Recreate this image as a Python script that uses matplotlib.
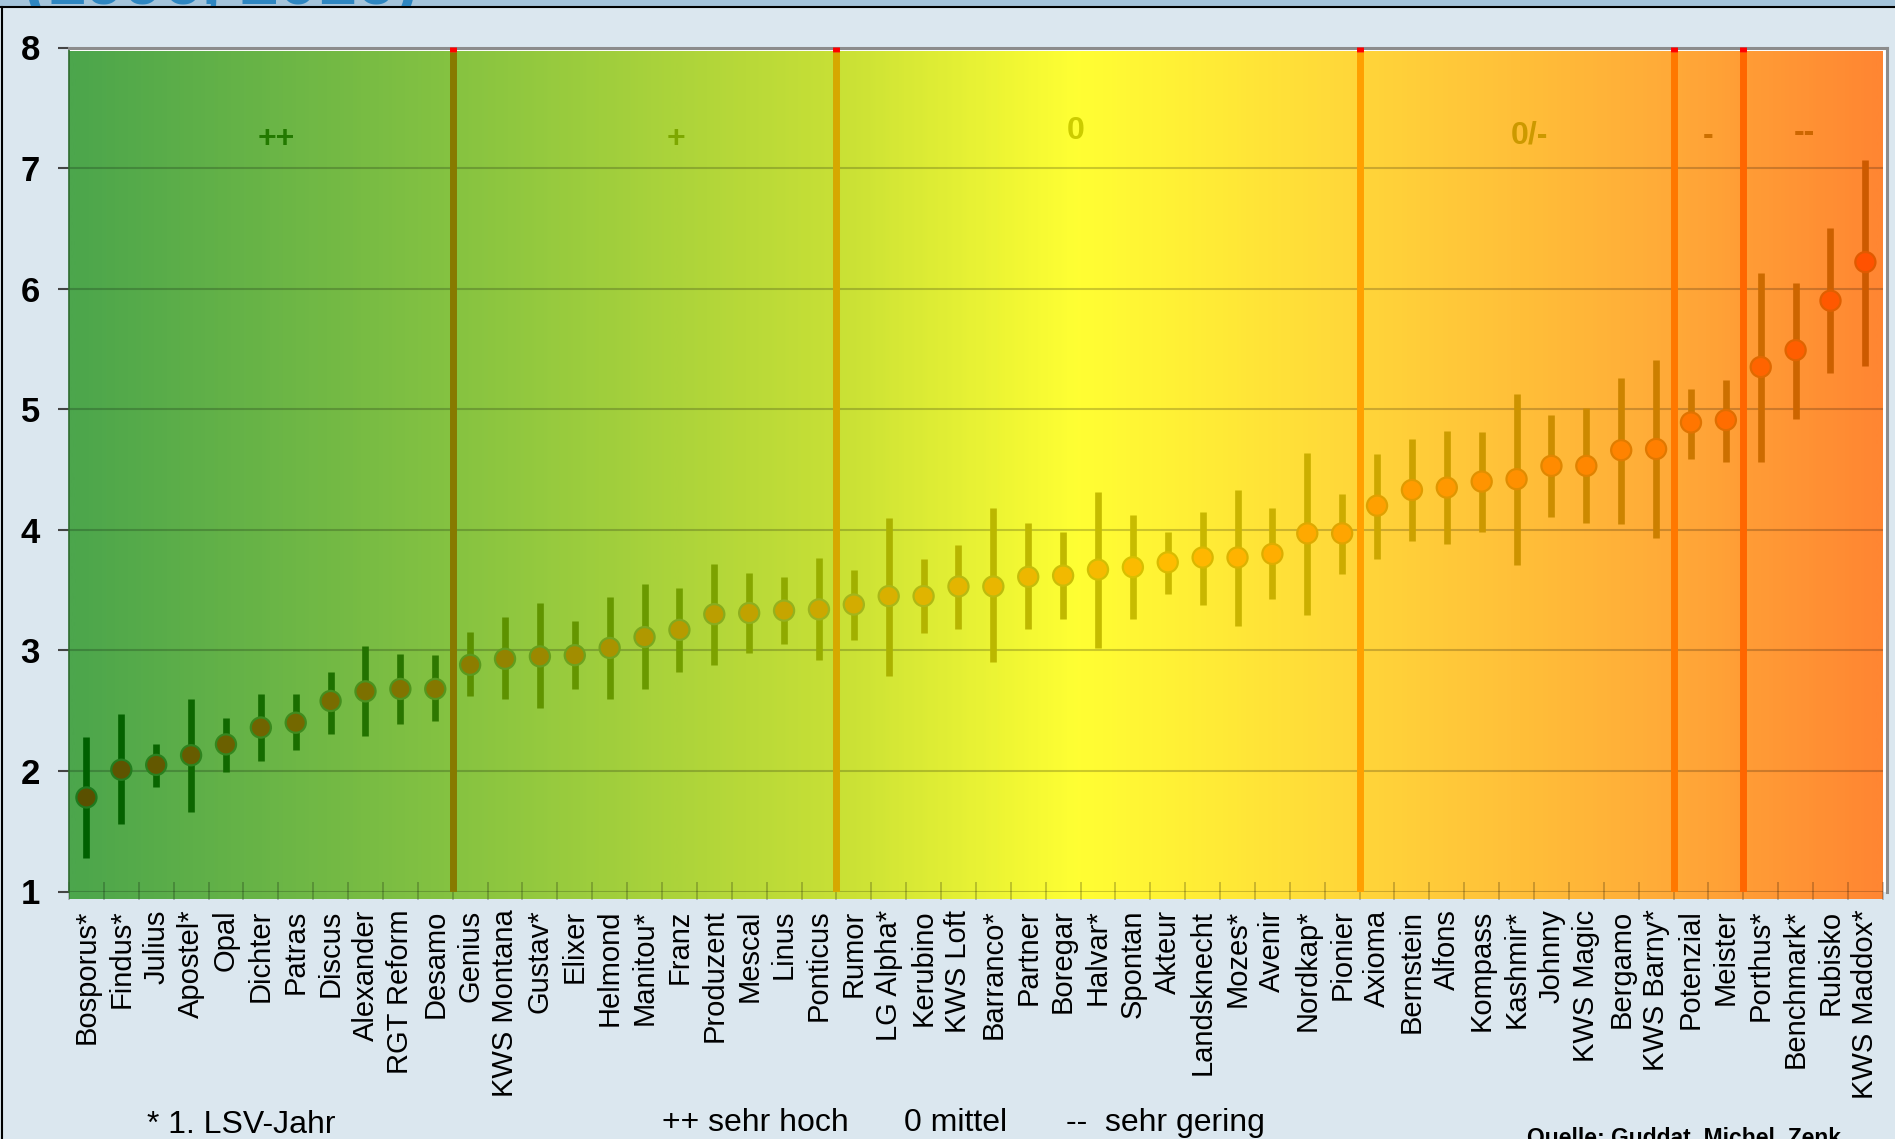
import numpy as np
import matplotlib
matplotlib.use('Agg')
import matplotlib.pyplot as plt
from matplotlib.colors import LinearSegmentedColormap
from matplotlib.patches import Rectangle
from matplotlib.lines import Line2D

# data
sorten = ['Bosporus*', 'Findus*', 'Julius', 'Apostel*', 'Opal', 'Dichter', 'Patras', 'Discus',
          'Alexander', 'RGT Reform', 'Desamo', 'Genius', 'KWS Montana', 'Gustav*', 'Elixer',
          'Helmond', 'Manitou*', 'Franz', 'Produzent', 'Mescal', 'Linus', 'Ponticus', 'Rumor',
          'LG Alpha*', 'Kerubino', 'KWS Loft', 'Barranco*', 'Partner', 'Boregar', 'Halvar*',
          'Spontan', 'Akteur', 'Landsknecht', 'Mozes*', 'Avenir', 'Nordkap*', 'Pionier',
          'Axioma', 'Bernstein', 'Alfons', 'Kompass', 'Kashmir*', 'Johnny', 'KWS Magic',
          'Bergamo', 'KWS Barny*', 'Potenzial', 'Meister', 'Porthus*', 'Benchmark*',
          'Rubisko', 'KWS Maddox*']
mittel = [1.78, 2.01, 2.05, 2.13, 2.22, 2.36, 2.40, 2.58, 2.66, 2.68,
          2.68, 2.88, 2.93, 2.95, 2.96, 3.02, 3.11, 3.17, 3.30, 3.31,
          3.33, 3.34, 3.38, 3.45, 3.45, 3.53, 3.53, 3.61, 3.62, 3.67,
          3.69, 3.73, 3.77, 3.77, 3.80, 3.97, 3.97, 4.20, 4.33, 4.35,
          4.40, 4.42, 4.53, 4.53, 4.66, 4.67, 4.89, 4.91, 5.35, 5.49,
          5.90, 6.22]
obere = [2.28, 2.47, 2.22, 2.60, 2.44, 2.64, 2.64, 2.82, 3.04, 2.97,
         2.96, 3.15, 3.28, 3.39, 3.24, 3.44, 3.55, 3.52, 3.72, 3.64,
         3.61, 3.77, 3.67, 4.10, 3.76, 3.87, 4.18, 4.06, 3.98, 4.31,
         4.12, 3.98, 4.15, 4.33, 4.18, 4.64, 4.30, 4.63, 4.75, 4.82,
         4.81, 5.13, 4.95, 5.01, 5.26, 5.41, 5.17, 5.24, 6.13, 6.05,
         6.50, 7.07]
untere = [1.28, 1.56, 1.87, 1.66, 1.99, 2.08, 2.17, 2.31, 2.29, 2.39,
          2.41, 2.62, 2.60, 2.52, 2.68, 2.60, 2.68, 2.82, 2.88, 2.98,
          3.05, 2.92, 3.09, 2.79, 3.14, 3.18, 2.90, 3.18, 3.26, 3.02,
          3.26, 3.47, 3.38, 3.20, 3.43, 3.29, 3.63, 3.76, 3.91, 3.88,
          3.98, 3.71, 4.11, 4.06, 4.05, 3.93, 4.59, 4.56, 4.56, 4.92,
          5.30, 5.36]
gruppen = ['++', '+', '0', '0/-', '-', '--']
# number of varieties before each group border
grenzen = [11, 22, 37, 46, 48]

# layout / style
W, H = 1895, 1139
bg = '#DBE7EF'
plt.rcParams['font.family'] = ['Liberation Sans', 'DejaVu Sans']

def ramp(anchors, n):
    pos = np.array([a[0] for a in anchors], dtype=float)
    pos = (pos - pos[0]) / (pos[-1] - pos[0])
    cmap = LinearSegmentedColormap.from_list('r', list(zip(pos, [a[1] for a in anchors])))
    return cmap(np.linspace(0, 1, n))

n = len(sorten)
x = np.arange(n)

fill_cols = ramp([(0, '#5A5000'), (10, '#857800'), (16, '#B09800'), (21, '#CCA800'),
                  (24, '#E0B400'), (31, '#FFBC00'), (37, '#FFA000'), (45, '#FF7F00'),
                  (48, '#FF6400'), (51, '#FF5200')], n)
bar_cols = ramp([(0, '#006000'), (7, '#1E7000'), (10, '#2E7800'), (11, '#5A9000'),
                 (16, '#6A9A00'), (21, '#98AE00'), (24, '#B4B400'), (30, '#C8BC00'),
                 (36, '#CCAC00'), (40, '#CC9800'), (45, '#CC7F00'), (47, '#CC7000'),
                 (51, '#CC5A00')], n)
edge_cols = ramp([(0, '#1E7A1E'), (11, '#5A9A1E'), (21, '#9CB41E'), (30, '#D8C000'),
                  (37, '#E0A000'), (45, '#E07800'), (51, '#E05A00')], n)
bg_cols = ramp([(0, '#4CA64C'), (11, '#86C341'), (22, '#C8E036'), (28.9, '#FFFF33'),
                (37, '#FFD63A'), (46, '#FFAA38'), (52, '#FF8632')], 400)

fig = plt.figure(figsize=(W / 100, H / 100), dpi=100, facecolor=bg)

# header band with cropped title
band = Rectangle((0, 1 - 6 / H), 1, 6 / H, transform=fig.transFigure,
                 facecolor='#A5C4DA', edgecolor='none')
fig.patches.append(band)
t = fig.text(24 / W, 1 - 4 / H, '(1996, 2016)', fontsize=50, weight='bold',
             color='#2E86C1', va='baseline')
t.set_clip_path(band)
fig.lines.append(Line2D([0, 1], [1 - 6.5 / H] * 2, transform=fig.transFigure,
                        color='black', lw=1.5))
fig.lines.append(Line2D([0.0008] * 2, [0, 1 - 6.5 / H], transform=fig.transFigure,
                        color='black', lw=1.5))

ax = fig.add_axes([69 / W, 1 - 891.5 / H, (1887 - 69) / W, (891.5 - 47.5) / H])
ax.set_facecolor('white')
ax.set_xlim(-0.5, n - 0.38)
ax.set_ylim(1, 8)

# gradient background
ax.imshow(bg_cols[:, :3][None, :, :], extent=(-0.5, n - 0.5, 0.935, 7.965),
          aspect='auto', interpolation='bilinear', zorder=0, clip_on=False)

# grid lines
ax.hlines(range(1, 8), -0.5, n - 0.5, color=(0, 0, 0, 0.2), lw=1.5, zorder=1)
# category ticks
ax.vlines(np.arange(-0.5, n, 1.0), 0.93, 1.075, color=(0, 0, 0, 0.22), lw=1.3,
          zorder=1, clip_on=False)

# group borders
sep_cols = ['#877A00', '#D6A800', '#FFA000', '#FF7800', '#FF6600']
sep_x = [g - 0.5 for g in grenzen]
ax.vlines(sep_x, 1, 7.965, colors=sep_cols, lw=5, zorder=3)
ax.vlines(sep_x, 7.965, 8.005, colors='#FF0000', lw=5, zorder=6, clip_on=False)

# group labels
lab_x = [5.43, 16.91, 28.37, 41.37, 46.5, 49.24]
lab_y = [7.24, 7.24, 7.31, 7.27, 7.27, 7.29]
lab_c = ['#237A00', '#7DA800', '#CCCC00', '#CC9900', '#CC7000', '#CC6600']
for g, lx, ly, lc in zip(gruppen, lab_x, lab_y, lab_c):
    ax.text(lx, ly, g, ha='center', va='center', fontsize=23, weight='bold',
            color=lc, zorder=4)

# error bars and means
ax.vlines(x, untere, obere, colors=bar_cols, lw=4.8, zorder=4, capstyle='butt')
ax.scatter(x, mittel, s=210, c=fill_cols, edgecolors=edge_cols, linewidths=1.6, zorder=5)

# axes styling
for s in ['top', 'right']:
    ax.spines[s].set_color('#8C8C8C')
    ax.spines[s].set_linewidth(2.2)
ax.spines['bottom'].set_visible(False)
ax.spines['left'].set_color('#2E6B2E')
ax.spines['left'].set_linewidth(1.2)

ax.set_yticks(range(1, 9))
ax.set_yticklabels([str(v) for v in range(1, 9)], fontsize=25, weight='bold')
ax.tick_params(axis='y', direction='out', length=8, width=1.5, color='#444444', pad=13)
ax.set_xticks(x)
ax.set_xticklabels(sorten, rotation=90, fontsize=21)
ax.tick_params(axis='x', length=0, pad=13)

# footer
fig.text(147 / W, 1 - 1133 / H, '* 1. LSV-Jahr', fontsize=23, va='baseline')
fig.text(662 / W, 1 - 1131 / H, '++ sehr hoch', fontsize=23, va='baseline')
fig.text(904 / W, 1 - 1131 / H, '0 mittel', fontsize=23, va='baseline')
fig.text(1066 / W, 1 - 1131 / H, '--  sehr gering', fontsize=23, va='baseline')
fig.text(1527 / W, 1 - 1145 / H, 'Quelle: Guddat, Michel, Zenk', fontsize=16.5,
         weight='bold', va='baseline')

fig.savefig('out.png', dpi=100, facecolor=bg)
